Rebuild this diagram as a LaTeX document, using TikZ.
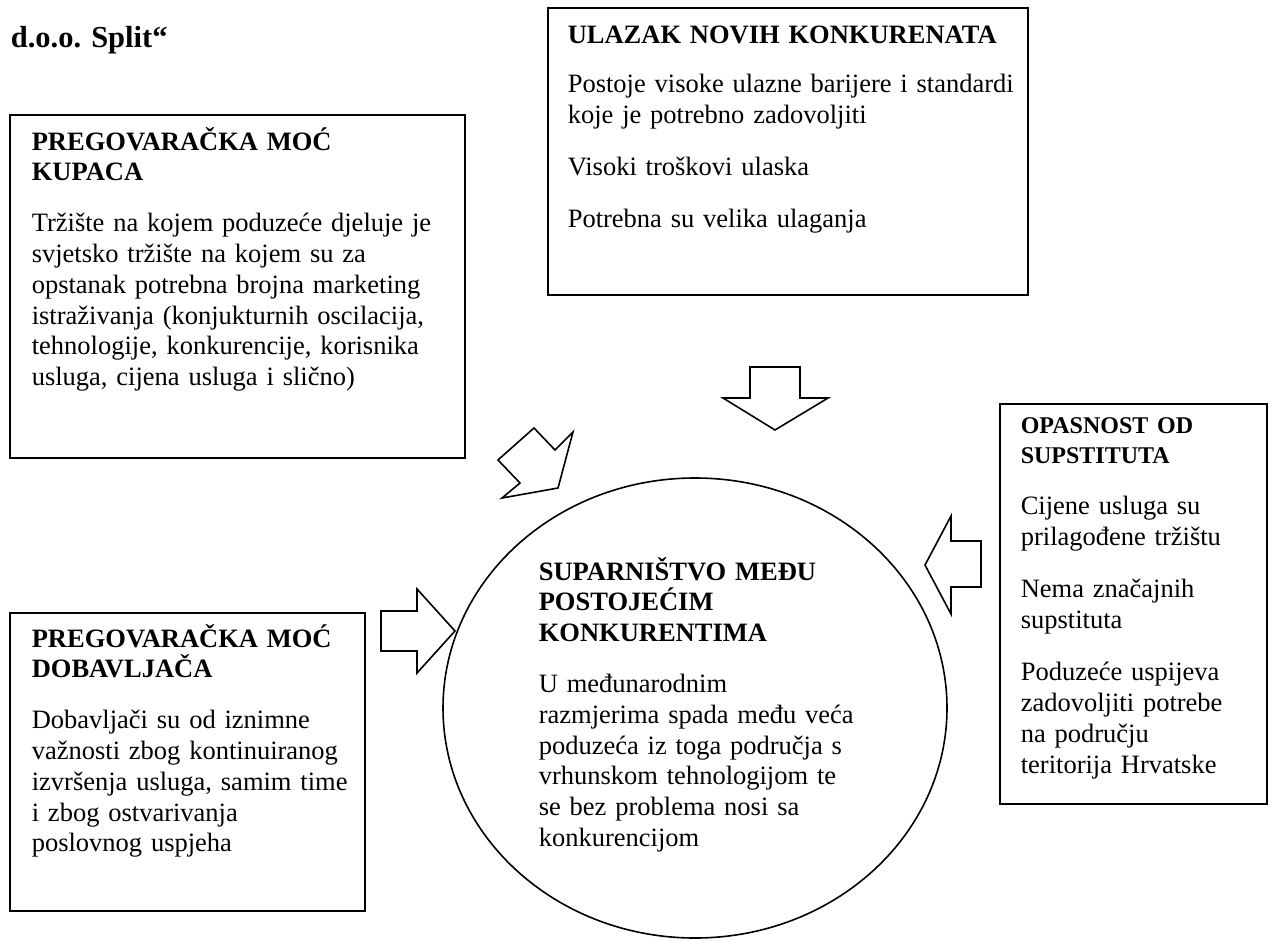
\documentclass[tikz,border=0pt]{standalone}
\usepackage{fontspec}
\setmainfont{Liberation Serif}
\usetikzlibrary{shapes.geometric}

\begin{document}
\begin{tikzpicture}[x=1pt,y=-1pt,line width=1.6pt,
  every node/.style={inner sep=0pt,font=\fontsize{26.5}{30.8}\selectfont},
  okvir/.style={draw,fill=white,anchor=north west},
  tekst/.style={anchor=base west,align=left},
  strelica/.style={draw,fill=white,line join=miter}]

  \useasboundingbox (0,0) rectangle (1269,940);

  % Specification of nodes (position, etc.)
  \node[anchor=base west,font=\fontsize{30.5}{36}\selectfont\bfseries] (naslov) at (10,47) {d.o.o. Split“};

  \node[draw,ellipse,minimum width=504pt,minimum height=460pt] (krug) at (695,708) {};
  \node[okvir,minimum width=455pt,minimum height=343pt] (k0) at (9,114) {};
  \node[okvir,minimum width=480pt,minimum height=287pt] (u0) at (547,7) {};
  \node[okvir,minimum width=267pt,minimum height=400pt] (s0) at (999,403) {};
  \node[okvir,minimum width=355pt,minimum height=298pt] (d0) at (9,612) {};

  % texts
  \node[tekst,text width=430pt] (k1) at (31,150) {%
    \textbf{PREGOVARAČKA MOĆ}\\ \textbf{KUPACA}\\[20pt]
    Tržište na kojem poduzeće djeluje je\\
    svjetsko tržište na kojem su za\\
    opstanak potrebna brojna marketing\\
    istraživanja (konjukturnih oscilacija,\\
    tehnologije, konkurencije, korisnika\\
    usluga, cijena usluga i slično)};
  \node[tekst,text width=455pt] (u1) at (567,43) {%
    \textbf{ULAZAK NOVIH KONKURENATA}\\[19pt]
    Postoje visoke ulazne barijere i standardi\\
    koje je potrebno zadovoljiti\\[21pt]
    Visoki troškovi ulaska\\[21pt]
    Potrebna su velika ulaganja};
  \node[tekst,text width=380pt] (c1) at (538,580) {%
    \textbf{SUPARNIŠTVO MEĐU}\\ \textbf{POSTOJEĆIM}\\ \textbf{KONKURENTIMA}\\[20pt]
    U međunarodnim\\
    razmjerima spada među veća\\
    poduzeća iz toga područja s\\
    vrhunskom tehnologijom te\\
    se bez problema nosi sa\\
    konkurencijom};
  \node[tekst,text width=240pt] (s1) at (1020,433) {%
    \textbf{\fontsize{24}{30.8}\selectfont OPASNOST OD}\\
    \textbf{\fontsize{24}{30.8}\selectfont SUPSTITUTA}\\[20pt]
    Cijene usluga su\\
    prilagođene tržištu\\[21pt]
    Nema značajnih\\
    supstituta\\[22pt]
    Poduzeće uspijeva\\
    zadovoljiti potrebe\\
    na području\\
    teritorija Hrvatske};
  \node[tekst,text width=330pt] (d1) at (31,647) {%
    \textbf{PREGOVARAČKA MOĆ}\\ \textbf{DOBAVLJAČA}\\[20pt]
    Dobavljači su od iznimne\\
    važnosti zbog kontinuiranog\\
    izvršenja usluga, samim time\\
    i zbog ostvarivanja\\
    poslovnog uspjeha};

  % block arrows
  \draw[strelica] (750,367) -- (800,367) -- (800,398) -- (828,398) -- (775,430)
    -- (723,398) -- (750,398) -- cycle;
  \draw[strelica] (534,428) -- (555,450) -- (573,432) -- (558,488) -- (502,498)
    -- (520,483) -- (498,460) -- cycle;
  \draw[strelica] (381,611) -- (417,611) -- (417,589) -- (455,631) -- (417,673)
    -- (417,651) -- (381,651) -- cycle;
  \draw[strelica] (981,541) -- (951,541) -- (951,516) -- (925,565) -- (951,614)
    -- (951,587) -- (981,587) -- cycle;

\end{tikzpicture}
\end{document}
